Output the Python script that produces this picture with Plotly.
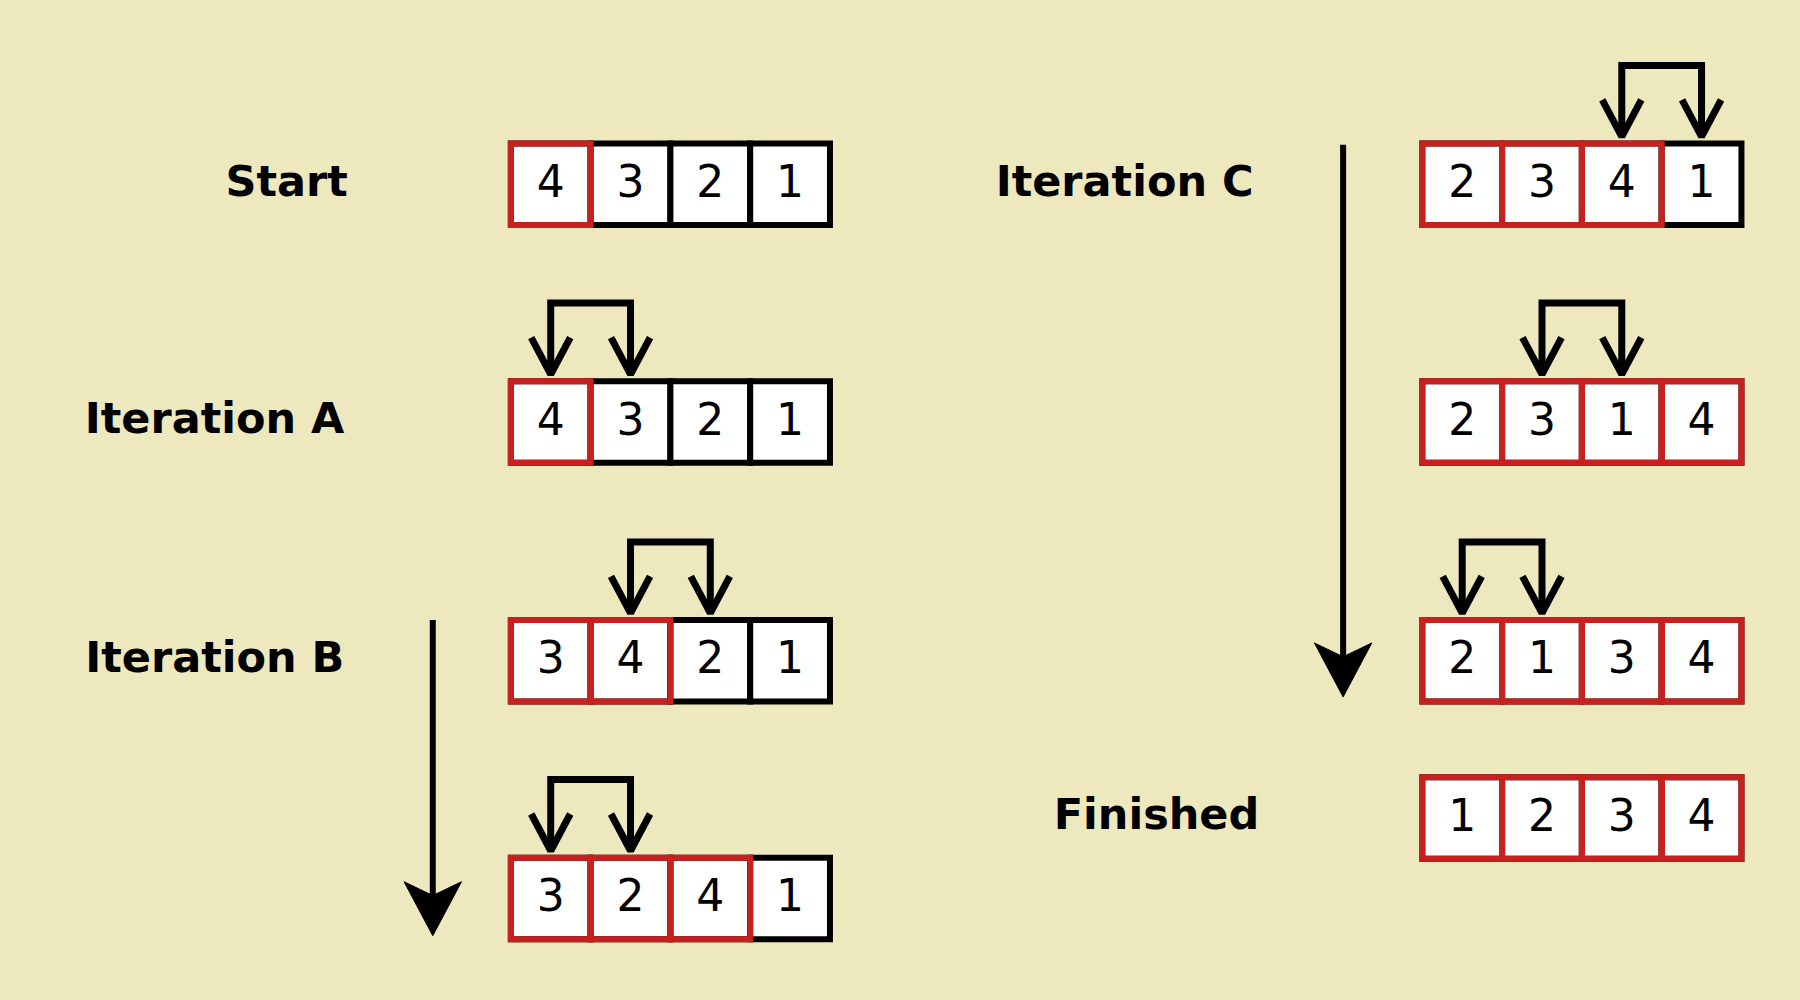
import plotly.graph_objects as go

# canvas units (reference picture coords, y downwards)
W, H = 1568, 871
CELL = 69.5

row_labels = ["Start", "Iteration A", "Iteration B", "", "Iteration C", "", "", "Finished"]
row_values = [[4, 3, 2, 1], [4, 3, 2, 1], [3, 4, 2, 1], [3, 2, 4, 1],
              [2, 3, 4, 1], [2, 3, 1, 4], [2, 1, 3, 4], [1, 2, 3, 4]]
row_sorted = [1, 1, 2, 3, 3, 4, 4, 4]          # how many leading cells are red
row_swap = [None, 0, 1, 0, 2, 1, 0, None]      # left cell index of the swap bracket
row_x0 = [445, 445, 445, 445, 1239, 1239, 1239, 1239]
row_y0 = [125, 332, 540, 747, 125, 332, 540, 677]
label_x = [303, 300, 300, None, 1092, None, None, 1097]

down_arrows = [(377, 540, 815), (1170, 126, 607)]

RED = "#c8201e"
BLACK = "#000000"
BG = "#eee8be"

fig = go.Figure()
shapes = []

for i, vals in enumerate(row_values):
    x0, y0 = row_x0[i], row_y0[i]
    # black cells first, red ones over them so shared edges are red
    for k in range(4):
        shapes.append(dict(type="rect", x0=x0 + k * CELL, x1=x0 + (k + 1) * CELL,
                           y0=y0, y1=y0 + 71, fillcolor="white",
                           line=dict(color=BLACK, width=6), layer="below"))
    for k in range(row_sorted[i]):
        shapes.append(dict(type="rect", x0=x0 + k * CELL, x1=x0 + (k + 1) * CELL,
                           y0=y0, y1=y0 + 71, fillcolor="rgba(0,0,0,0)",
                           line=dict(color=RED, width=6), layer="below"))
    fig.add_trace(go.Scatter(
        x=[x0 + (k + 0.5) * CELL for k in range(4)], y=[y0 + 37] * 4,
        mode="text", text=[str(v) for v in vals],
        textfont=dict(family="DejaVu Sans", size=44, color=BLACK)))
    if label_x[i] is not None:
        fig.add_trace(go.Scatter(
            x=[label_x[i]], y=[y0 + 36], mode="text", text=[row_labels[i]],
            textposition="middle left",
            textfont=dict(family="DejaVu Sans", size=43, color=BLACK, weight="bold")))
    s = row_swap[i]
    if s is not None:
        ca = x0 + (s + 0.5) * CELL
        cb = ca + CELL
        top = y0 - 68
        fig.add_trace(go.Scatter(x=[ca, ca, cb, cb], y=[y0 - 8, top, top, y0 - 8],
                                 mode="lines", line=dict(color=BLACK, width=7)))
        for c in (ca, cb):
            fig.add_trace(go.Scatter(x=[c - 17, c, c + 17], y=[y0 - 38, y0 - 6, y0 - 38],
                                     mode="lines", line=dict(color=BLACK, width=7)))

for ax, ytop, ybot in down_arrows:
    fig.add_trace(go.Scatter(x=[ax, ax], y=[ytop, ybot - 30], mode="lines",
                             line=dict(color=BLACK, width=6)))
    fig.add_trace(go.Scatter(x=[ax, ax - 25, ax, ax + 25, ax],
                             y=[ybot, ybot - 47, ybot - 35, ybot - 47, ybot],
                             mode="lines", fill="toself", fillcolor=BLACK,
                             line=dict(color=BLACK, width=1)))

fig.update_layout(
    width=1800, height=1000, margin=dict(l=0, r=0, t=0, b=0),
    paper_bgcolor=BG, plot_bgcolor=BG, showlegend=False, shapes=shapes,
    xaxis=dict(range=[0, W], visible=False, fixedrange=True),
    yaxis=dict(range=[H, 0], visible=False, fixedrange=True),
)

fig.write_html("out.html", config={"displayModeBar": False},
               post_script="document.body.style.margin='0';"
                           "document.body.style.background='#eee8be';")
